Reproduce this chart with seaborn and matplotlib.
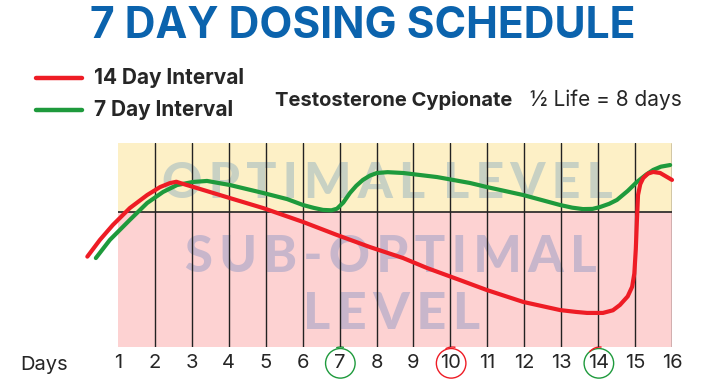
import matplotlib
matplotlib.use("Agg")
import matplotlib.pyplot as plt
import matplotlib.transforms as mtransforms
from matplotlib.patches import Ellipse, Arc
import pandas as pd
import seaborn as sns

# Values (day, relative hormone level 0-100)
red_days = [0.17, 0.51, 0.86, 1.32, 1.79, 2.14, 2.40, 2.58, 2.68, 3.14, 4.03, 4.93, 5.39, 6.01,
            6.93, 7.82, 8.72, 9.37, 10.26, 10.99, 11.97, 12.97, 13.40, 13.70, 14.13, 14.40,
            14.59, 14.80, 14.92, 14.98, 15.02, 15.05, 15.08, 15.14, 15.22, 15.35, 15.49, 15.68,
            16.0]
red_level = [44.3, 52.5, 59.8, 68.1, 74.5, 78.4, 80.3, 81.0, 80.4, 77.9, 73.0, 68.1, 65.2, 61.3,
             54.9, 49.0, 43.6, 38.7, 32.8, 27.9, 22.1, 18.1, 17.2, 16.7, 16.7, 18.0,
             20.6, 24.8, 29.5, 36.0, 48.0, 62.0, 74.5, 79.8, 82.8, 85.0, 85.8, 85.3,
             81.9]
green_days = [0.40, 0.78, 1.32, 1.79, 2.22, 2.60, 3.03, 3.41, 4.03, 4.93, 5.58, 6.01, 6.30, 6.55,
              6.78, 6.93, 7.10, 7.28, 7.45, 7.63, 7.82, 8.01, 8.30, 8.72, 9.64, 10.53, 10.99,
              11.97, 12.97, 13.30, 13.59, 13.85, 14.05, 14.30, 14.51, 14.80, 15.05, 15.30, 15.49,
              15.70, 15.95]
green_level = [43.6, 52.5, 62.3, 70.6, 76.0, 79.4, 80.9, 81.4, 79.4, 75.5, 72.5, 69.6, 68.2, 67.2,
               67.0, 67.8, 70.8, 75.5, 79.0, 81.9, 84.0, 85.3, 85.7, 85.3, 83.3, 80.4, 78.4,
               74.5, 69.6, 68.3, 67.6, 67.7, 68.6, 70.2, 72.1, 76.5, 80.9, 84.5, 86.8,
               88.4, 89.2]
optimal_threshold = 66.2
day_ticks = list(range(1, 17))
day_labels = [str(d) for d in day_ticks]
circled_days = [7, 10, 14]

red = "#ee1c25"
green = "#1e9a3c"

sns.set_style("white")
plt.rcParams["font.family"] = ["Inter", "DejaVu Sans"]

fig = plt.figure(figsize=(7.09, 3.91), dpi=100)
ax = fig.add_axes([118 / 709, 44 / 391, 554 / 709, 204 / 391])

# Background bands
ax.axhspan(optimal_threshold, 100, color="#fdf0c6", lw=0, zorder=0)
ax.axhspan(0, optimal_threshold, color="#fdd2d2", lw=0, zorder=0)

# Watermark labels (letter-spaced with thin spaces)
gap = "\u2009"
wm = dict(ha="center", va="center", fontweight="black", style="normal",
          family=["Lato", "DejaVu Sans"], zorder=1)
ax.text(8.3, 80, gap.join("OPTIMAL") + " " + gap + gap.join("LEVEL"), fontsize=36,
        color="#c8d1c3", **wm)
ax.text(8.4, 44, gap.join("SUB-OPTIMAL"), fontsize=36.5, color="#c8b6cb", **wm)
ax.text(8.4, 15.7, gap.join("LEVEL"), fontsize=37.5, color="#c8b6cb", **wm)

# Grid
for d in day_ticks[1:]:
    ax.axvline(d, color="#222222", lw=1, zorder=2)
ax.axhline(optimal_threshold, color="#222222", lw=1.2, zorder=2)

# Curves
green_df = pd.DataFrame({"day": green_days, "level": green_level})
red_df = pd.DataFrame({"day": red_days, "level": red_level})
sns.lineplot(data=green_df, x="day", y="level", color=green, lw=3, sort=False, ax=ax, zorder=3)
sns.lineplot(data=red_df, x="day", y="level", color=red, lw=3, sort=False, ax=ax, zorder=4)
for line in ax.lines[-2:]:
    line.set_clip_on(False)
    line.set_solid_joinstyle("round")

ax.set_xlim(1, 16)
ax.set_ylim(0, 100)
ax.set_yticks([])
ax.set_xticks(day_ticks)
ax.set_xticklabels(day_labels, fontsize=14.5)
ax.tick_params(axis="x", length=0, pad=5)
ax.set_xlabel("")
ax.set_ylabel("")
for s in ax.spines.values():
    s.set_visible(False)

# Hand-drawn style circles around dosing days
trans = mtransforms.blended_transform_factory(ax.transData, ax.transAxes)
circle_colors = {7: green, 10: red, 14: green}
for d in circled_days:
    c = circle_colors[d]
    ax.add_patch(Ellipse((d + 0.02, -0.08), 0.8, 0.145, transform=trans, fill=False,
                         ec=c, lw=1, clip_on=False))
ax.add_patch(Arc((7.03, -0.075), 0.72, 0.15, theta1=40, theta2=150, transform=trans,
                 ec=green, lw=1, clip_on=False))
ax.add_patch(Arc((10.05, -0.075), 0.78, 0.15, theta1=40, theta2=160, transform=trans,
                 ec=red, lw=1, clip_on=False))
ax.add_patch(Arc((14.05, -0.075), 0.78, 0.15, theta1=60, theta2=170, transform=trans,
                 ec=red, lw=1, clip_on=False))

# Titles and legend
fig.text(363 / 709, 1 - 26 / 391, "7 DAY DOSING SCHEDULE", ha="center", va="center",
         fontsize=30.7, fontweight="bold", style="normal", color="#0b63ad")
fig.lines.append(plt.Line2D([36 / 709, 82 / 709], [1 - 78 / 391] * 2, color=red, lw=3.2,
                            transform=fig.transFigure))
fig.lines.append(plt.Line2D([36 / 709, 82 / 709], [1 - 110 / 391] * 2, color=green, lw=3.2,
                            transform=fig.transFigure))
fig.text(94 / 709, 1 - 78 / 391, "14 Day Interval", ha="left", va="center", fontsize=15,
         fontweight="bold")
fig.text(94 / 709, 1 - 110 / 391, "7 Day Interval", ha="left", va="center", fontsize=15,
         fontweight="bold")
fig.text(275 / 709, 1 - 100 / 391, "Testosterone Cypionate", ha="left", va="center",
         fontsize=14.5, fontweight="bold")
fig.text(682 / 709, 1 - 100 / 391, "½ Life = 8 days", ha="right", va="center", fontsize=15)
fig.text(44 / 709, 1 - 365 / 391, "Days", ha="center", va="center", fontsize=14.5)

fig.savefig("out.png", dpi=100)
